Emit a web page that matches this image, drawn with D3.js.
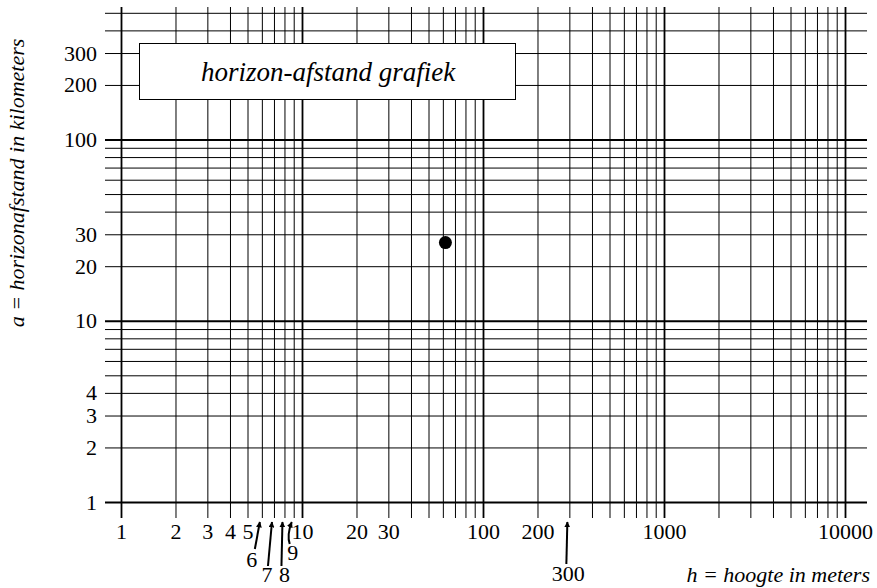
<!DOCTYPE html>
<html>
<head>
<meta charset="utf-8">
<script src="https://cdn.jsdelivr.net/npm/d3@7"></script>
<style>
    body { margin: 0; background: #fff; }
    svg text { font-family: "Liberation Serif", "Times New Roman", serif; fill: #000; }
    .gridline { stroke: #000; stroke-width: 1; }
    .gridline.decade { stroke-width: 1.8; }
</style>
</head>
<body>
<div id="chart"></div>
<script>
// grid values (hoogte in meters / horizonafstand in km)
var xGrid = [1, 2, 3, 4, 5, 6, 7, 8, 9, 10, 20, 30, 40, 50, 60, 70, 80, 90,
    100, 200, 300, 400, 500, 600, 700, 800, 900,
    1000, 2000, 3000, 4000, 5000, 6000, 7000, 8000, 9000, 10000];
var yGrid = [1, 2, 3, 4, 5, 6, 7, 8, 9, 10, 20, 30, 40, 50, 60, 70, 80, 90,
    100, 200, 300, 400, 500];
var xLabels = [1, 2, 3, 4, 5, 10, 20, 30, 100, 200, 1000, 10000];
var yLabels = [1, 2, 3, 4, 10, 20, 30, 100, 200, 300];
// ticks labelled below with an arrow
var arrowLabels = [6, 7, 8, 9, 300];
// the one marked point
var pointH = [62];
var pointA = [27];

var chart = {
    w: 877,
    h: 588,
    left: 105,   // left end of the horizontal lines
    right: 867,  // right end
    top: 7,      // top of the vertical lines
    bottom: 518, // bottom of the vertical lines
    svg: undefined,
    xScale: undefined,
    yScale: undefined,
    plot: function() {
        var self = this;
        this.svg = d3.select("#chart")
            .append("svg")
            .attr("width", this.w)
            .attr("height", this.h);

        this.xScale = d3.scaleLog().domain([1, 10000]).range([121, 845]);
        this.yScale = d3.scaleLog().domain([1, 100]).range([502, 139.5]);

        var isDecade = function(d) {
            var l = Math.log10(d);
            return Math.abs(l - Math.round(l)) < 1e-9;
        };

        // vertical grid, drawn as the ticks of the bottom axis
        var xAxis = d3.axisBottom(this.xScale)
            .tickValues(xGrid)
            .tickSizeInner(-(this.bottom - this.top))
            .tickSizeOuter(0)
            .tickPadding(6)
            .tickFormat(function(d) {
                return xLabels.indexOf(d) >= 0 ? d : "";
            });

        var gx = this.svg.append("g")
            .attr("transform", "translate(0, " + this.bottom + ")")
            .call(xAxis);
        gx.select(".domain").remove();
        gx.selectAll(".tick line")
            .attr("class", function(d) { return isDecade(d) ? "gridline decade" : "gridline"; });
        gx.selectAll(".tick text")
            .attr("y", 5)
            .attr("font-size", 22);

        // horizontal grid from the left axis
        var yAxis = d3.axisLeft(this.yScale)
            .tickValues(yGrid)
            .tickSizeInner(-(this.right - this.left))
            .tickSizeOuter(0)
            .tickPadding(8)
            .tickFormat(function(d) {
                return yLabels.indexOf(d) >= 0 ? d : "";
            });

        var gy = this.svg.append("g")
            .attr("transform", "translate(" + this.left + ", 0)")
            .call(yAxis);
        gy.select(".domain").remove();
        gy.selectAll(".tick line")
            .attr("class", function(d) { return isDecade(d) ? "gridline decade" : "gridline"; });
        gy.selectAll(".tick text")
            .attr("font-size", 22);

        this.addArrows();

        // the point
        this.svg.append("g").selectAll("circle")
            .data(pointH)
            .enter()
            .append("circle")
            .attr("cx", function(d) { return self.xScale(d); })
            .attr("cy", function(d, i) { return self.yScale(pointA[i]); })
            .attr("r", 6.5)
            .attr("fill", "#000");

        // title box
        var box = this.svg.append("g");
        box.append("rect")
            .attr("x", 139.5)
            .attr("y", 43.5)
            .attr("width", 376)
            .attr("height", 56)
            .attr("fill", "#fff")
            .attr("stroke", "#000")
            .attr("stroke-width", 1);
        box.append("text")
            .attr("x", 328)
            .attr("y", 81)
            .attr("text-anchor", "middle")
            .attr("font-size", 27)
            .attr("font-style", "italic")
            .text("horizon-afstand grafiek");

        // axis titles
        this.svg.append("text")
            .attr("transform", "translate(24, 183) rotate(-90)")
            .attr("text-anchor", "middle")
            .attr("font-size", 22)
            .attr("font-style", "italic")
            .text("a = horizonafstand in kilometers");

        this.svg.append("text")
            .attr("x", 870)
            .attr("y", 582)
            .attr("text-anchor", "end")
            .attr("font-size", 22)
            .attr("font-style", "italic")
            .text("h = hoogte in meters");
    },
    addArrows: function() {
        var self = this;
        // label offset (dx from tick) and label baseline / arrow tail
        var place = {
            6: { lx: -10, ly: 567, tx: -7, ty: 549, curve: false },
            7: { lx: -7, ly: 582, tx: -6, ty: 566, curve: false },
            8: { lx: 0, ly: 582, tx: -3, ty: 566, curve: false },
            9: { lx: -1, ly: 560, tx: -4, ty: 544, curve: true },
            300: { lx: -1, ly: 581, tx: -3, ty: 564, curve: false }
        };

        this.svg.append("defs").append("marker")
            .attr("id", "head")
            .attr("viewBox", "0 0 10 10")
            .attr("refX", 9)
            .attr("refY", 5)
            .attr("markerWidth", 6)
            .attr("markerHeight", 6)
            .attr("markerUnits", "userSpaceOnUse")
            .attr("orient", "auto")
            .append("path")
            .attr("d", "M 0 0 L 10 5 L 0 10 z")
            .attr("fill", "#000");

        var g = this.svg.append("g");
        g.selectAll("path.arrow")
            .data(arrowLabels)
            .enter()
            .append("path")
            .attr("class", "arrow")
            .attr("d", function(d) {
                var p = place[d],
                    x = self.xScale(d) - 2,
                    y = self.bottom + 4,
                    x0 = x + p.tx + 2,
                    y0 = p.ty;
                if (p.curve) {
                    return "M " + x0 + " " + y0 + " Q " + (x0 - 3) + " " + (y0 - 9) + " " + x + " " + y;
                }
                return "M " + x0 + " " + y0 + " L " + x + " " + y;
            })
            .attr("fill", "none")
            .attr("stroke", "#000")
            .attr("stroke-width", 2)
            .attr("marker-end", "url(#head)");

        g.selectAll("text")
            .data(arrowLabels)
            .enter()
            .append("text")
            .attr("x", function(d) { return self.xScale(d) + place[d].lx; })
            .attr("y", function(d) { return place[d].ly; })
            .attr("text-anchor", "middle")
            .attr("font-size", 22)
            .text(function(d) { return d; });
    }
};

chart.plot();
</script>
</body>
</html>
